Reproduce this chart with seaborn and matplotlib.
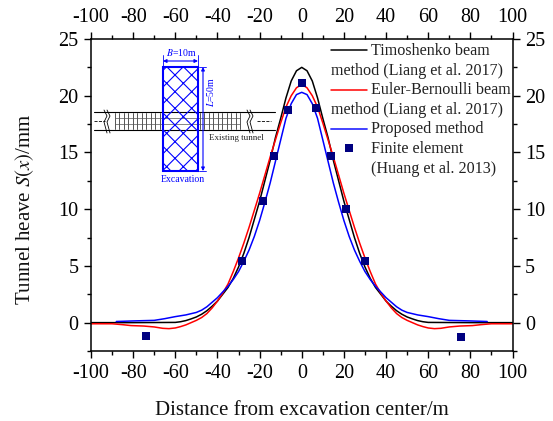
import numpy as np
import pandas as pd
import seaborn as sns
import matplotlib.pyplot as plt
from matplotlib.patches import Rectangle
from matplotlib.ticker import MultipleLocator

sns.set_theme(style = 'ticks')
plt.rcParams['font.family'] = ['Liberation Serif', 'DejaVu Serif']
plt.rcParams['mathtext.fontset'] = 'stix'
plt.rcParams['axes.unicode_minus'] = False
plt.rcParams['hatch.linewidth'] = 0.8

# curves
x_timo = [-100, -80, -60, -57.5, -55, -52.5, -50, -47.5, -45, -42.5, -40, -37.5, -35, -32.5, -30, -27.5, -25, -22.5, -20, -17.5, -15, -12.5, -10, -7.5, -5, -2.5, 0,
          2.5, 5, 7.5, 10, 12.5, 15, 17.5, 20, 22.5, 25, 27.5, 30, 32.5, 35, 37.5, 40, 42.5, 45, 47.5, 50, 52.5, 55, 57.5, 60, 80, 100]
y_timo = [0, 0, 0.02, 0.08, 0.18, 0.33, 0.5, 0.74, 1.05, 1.45, 1.9, 2.5, 3.1, 3.9, 4.9, 6.1, 7.5, 9.1, 10.7, 12.5, 14.3, 16.3, 18.0, 19.8, 21.3, 22.2, 22.5,
          22.2, 21.3, 19.8, 18.0, 16.3, 14.3, 12.5, 10.7, 9.1, 7.5, 6.1, 4.9, 3.9, 3.1, 2.5, 1.9, 1.45, 1.05, 0.74, 0.5, 0.33, 0.18, 0.08, 0.02, 0, 0]
x_euler = [-100, -90, -85, -81, -75, -70, -66, -63, -60, -57.5, -55, -52.5, -50, -47.5, -45, -42.5, -40, -37.5, -35, -32.5, -30, -27.5, -25, -22.5, -20, -17.5, -15, -12.5, -10, -7.5, -5, -2.5, 0,
           2.5, 5, 7.5, 10, 12.5, 15, 17.5, 20, 22.5, 25, 27.5, 30, 32.5, 35, 37.5, 40, 42.5, 45, 47.5, 50, 52.5, 55, 57.5, 60, 63, 66, 70, 75, 81, 85, 90, 100]
y_euler = [-0.1, -0.1, -0.18, -0.26, -0.3, -0.38, -0.5, -0.53, -0.47, -0.35, -0.2, 0, 0.2, 0.45, 0.8, 1.3, 1.9, 2.6, 3.4, 4.5, 5.7, 7.0, 8.4, 9.9, 11.4, 13.0, 14.6, 16.1, 17.6, 19.0, 20.0, 20.7, 21.0,
           20.7, 20.0, 19.0, 17.6, 16.1, 14.6, 13.0, 11.4, 9.9, 8.4, 7.0, 5.7, 4.5, 3.4, 2.6, 1.9, 1.3, 0.8, 0.45, 0.2, 0, -0.2, -0.35, -0.47, -0.53, -0.5, -0.38, -0.3, -0.26, -0.18, -0.1, -0.1]
x_prop = [-88, -80, -70, -65, -60, -55, -50, -47.5, -45, -42.5, -40, -37.5, -35, -32.5, -30, -27.5, -25, -22.5, -20, -17.5, -15, -12.5, -10, -7.5, -5, -2.5, 0,
          2.5, 5, 7.5, 10, 12.5, 15, 17.5, 20, 22.5, 25, 27.5, 30, 32.5, 35, 37.5, 40, 42.5, 45, 47.5, 50, 55, 60, 65, 70, 80, 88]
y_prop = [0.1, 0.15, 0.2, 0.35, 0.53, 0.68, 0.9, 1.1, 1.4, 1.8, 2.2, 2.7, 3.2, 3.8, 4.5, 5.4, 6.4, 7.6, 9.0, 10.6, 12.3, 14.2, 16.1, 18.0, 19.3, 20.1, 20.3,
          20.1, 19.3, 18.0, 16.1, 14.2, 12.3, 10.6, 9.0, 7.6, 6.4, 5.4, 4.5, 3.8, 3.2, 2.7, 2.2, 1.8, 1.4, 1.1, 0.9, 0.68, 0.53, 0.35, 0.2, 0.15, 0.1]
x_fem = [-74, -28.3, -18.3, -13, -6.5, 0, 6.8, 13.9, 21, 30, 75.7]
y_fem = [-1.2, 5.4, 10.7, 14.7, 18.7, 21.1, 18.9, 14.7, 10, 5.4, -1.3]

tick_x = [-100, -80, -60, -40, -20, 0, 20, 40, 60, 80, 100]
tick_y = [0, 5, 10, 15, 20, 25]

# legend lines, in picture pixels
legend_lines = ['Timoshenko beam', 'method (Liang et al. 2017)', 'Euler-Bernoulli beam',
                'method (Liang et al. 2017)', 'Proposed method', 'Finite element', '(Huang et al. 2013)']
legend_x = [371, 331, 371, 331, 371, 371, 371]
legend_y = [51, 71, 90, 110, 129, 149, 169]

# sketch of the tunnel, in picture pixels
rung_x = [115, 119, 124, 128, 133, 137, 142, 146, 151, 155, 160, 200, 204, 209, 213, 218, 222, 227, 231, 236, 240]
break_x = [104, 107, 104, 107]
break_y = [110, 116, 122, 133]

d_timo = pd.DataFrame({'x': x_timo, 'y': y_timo})
d_euler = pd.DataFrame({'x': x_euler, 'y': y_euler})
d_prop = pd.DataFrame({'x': x_prop, 'y': y_prop})
d_fem = pd.DataFrame({'x': x_fem, 'y': y_fem})

fig = plt.figure(figsize = (5.53, 4.21), dpi = 100)
ax = fig.add_axes([91/553, 1 - 351/421, 421.5/553, 312/421])

sns.lineplot(data = d_timo, x = 'x', y = 'y', color = 'black', lw = 1.1, sort = False, ax = ax)
sns.lineplot(data = d_euler, x = 'x', y = 'y', color = 'red', lw = 1.1, sort = False, ax = ax)
sns.lineplot(data = d_prop, x = 'x', y = 'y', color = 'blue', lw = 1.1, sort = False, ax = ax)
sns.scatterplot(data = d_fem, x = 'x', y = 'y', color = 'navy', marker = 's', s = 32, linewidth = 0, zorder = 5, ax = ax)

ax.set_xlim(-100, 100)
ax.set_ylim(-2.5, 25)
ax.set_xticks(tick_x)
ax.set_yticks(tick_y)
ax.xaxis.set_minor_locator(MultipleLocator(10))
ax.yaxis.set_minor_locator(MultipleLocator(2.5))
ax.tick_params(which = 'both', direction = 'out', top = True, right = True, labeltop = True, labelright = True,
               width = 1, colors = 'black', labelsize = 14.5, pad = 4)
ax.tick_params(which = 'major', length = 5)
ax.tick_params(which = 'minor', length = 3)
for side in ax.spines.values():
    side.set_visible(True)
    side.set_linewidth(1.1)
    side.set_color('black')
ax.set_xlabel('Distance from excavation center/m', size = 15, labelpad = 13, color = '#111111')
ax.set_ylabel(r'Tunnel heave $S(x)$/mm', size = 15, color = '#111111')
ax.yaxis.set_label_coords(-0.13, 0.455)
ax.grid(False)

# overlay in pixels for the sketch and the legend
over = fig.add_axes([0, 0, 1, 1], facecolor = 'none')
over.set_xlim(0, 553)
over.set_ylim(421, 0)
over.axis('off')

for y in [112, 130]:
    over.plot([94, 275], [y, y], color = 'black', lw = 0.8)
over.plot([94, 105], [121, 121], color = 'black', lw = 0.6, ls = '--')
over.plot([257, 271], [121, 121], color = 'black', lw = 0.6, ls = '--')
for x in rung_x:
    over.plot([x, x], [113, 129], color = '#555555', lw = 0.7)
over.plot([115, 240], [118, 118], color = '#555555', lw = 0.5)
over.plot([115, 240], [124, 124], color = '#555555', lw = 0.5)
for shift in [0, 143]:
    over.plot(np.array(break_x) + shift, break_y, color = 'black', lw = 0.6)
    over.plot(np.array(break_x) + shift + 3, break_y, color = 'black', lw = 0.6)
over.add_patch(Rectangle((163, 67), 35, 104, facecolor = 'none', edgecolor = 'blue', lw = 1.5, hatch = 'xx', zorder = 3))
over.annotate('', xy = (163, 61), xytext = (198, 61), arrowprops = dict(arrowstyle = '<|-|>', color = 'blue', lw = 0.8, mutation_scale = 5, shrinkA = 0, shrinkB = 0))
over.annotate('', xy = (203, 67), xytext = (203, 171), arrowprops = dict(arrowstyle = '<|-|>', color = 'blue', lw = 0.8, mutation_scale = 5, shrinkA = 0, shrinkB = 0))
over.plot([163, 163], [55, 66], color = 'blue', lw = 0.6)
over.plot([198, 198], [55, 66], color = 'blue', lw = 0.6)
over.plot([199, 206], [67, 67], color = 'blue', lw = 0.6)
over.plot([199, 206], [171, 171], color = 'blue', lw = 0.6)
over.text(181, 53, '$B$=10m', color = 'blue', size = 7, ha = 'center', va = 'center')
over.text(210, 92, '$L$=50m', color = 'blue', size = 7, ha = 'center', va = 'center', rotation = 90)
over.text(183, 180, 'Excavation', color = 'blue', size = 7, ha = 'center', va = 'center')
over.text(236, 138, 'Existing tunnel', color = '#222222', size = 6.5, ha = 'center', va = 'center')

for label, lx, ly in zip(legend_lines, legend_x, legend_y):
    over.text(lx, ly, label, size = 11.6, ha = 'left', va = 'center', color = '#222222')
over.plot([331, 367], [50, 50], color = 'black', lw = 1.1)
over.plot([331, 367], [90, 90], color = 'red', lw = 1.1)
over.plot([331, 367], [129, 129], color = '#3333ff', lw = 1.3)
over.scatter([349], [148], color = 'navy', marker = 's', s = 32, linewidth = 0)

plt.savefig('out.png', dpi = 100)
